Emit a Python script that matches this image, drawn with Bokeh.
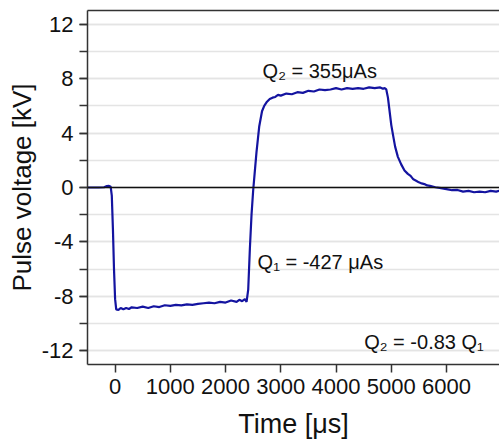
from bokeh.plotting import figure
from bokeh.models import FixedTicker, Span, LinearAxis, Range1d, ColumnDataSource, CustomJSTickFormatter
from bokeh.core.properties import value
from bokeh.embed import file_html
from bokeh.resources import INLINE

# Waveform: time [us] and voltage [kV]
time_us = [-500, -300, -200, -150, -110, -80, -60, -40, -20, 0, 20, 60,
           100, 150, 200, 250, 300, 400, 500, 600, 700, 800, 900, 1000,
           1100, 1200, 1300, 1400, 1500, 1600, 1700, 1800, 1900, 2000,
           2100, 2200, 2250, 2300, 2350, 2380, 2410, 2440, 2470, 2500,
           2530, 2560, 2610, 2660, 2700, 2750, 2800, 2850, 2900, 2950,
           3000, 3100, 3200, 3300, 3400, 3500, 3600, 3700, 3800, 3900,
           4000, 4100, 4200, 4300, 4400, 4500, 4600, 4700, 4800, 4850,
           4880, 4910, 4940, 4970, 5000, 5030, 5070, 5120, 5180, 5240,
           5300, 5350, 5400, 5450, 5500, 5550, 5600, 5650, 5700, 5800,
           5900, 6000, 6100, 6200, 6300, 6400, 6500, 6600, 6700, 6800,
           6900, 7000]
voltage_kv = [0.0, 0.0, 0.02, 0.1, 0.12, 0.05, -0.6, -3.0, -6.0, -8.2, -8.95, -9.0,
              -8.85, -8.95, -8.85, -8.92, -8.8, -8.85, -8.75, -8.85, -8.72, -8.78, -8.65, -8.7,
              -8.62, -8.66, -8.58, -8.62, -8.55, -8.5, -8.45, -8.5, -8.4, -8.45,
              -8.3, -8.4, -8.25, -8.35, -8.2, -8.4, -7.5, -4.5, -2.0, -0.2,
              1.2, 2.6, 4.5, 5.6, 6.0, 6.3, 6.5, 6.6, 6.65, 6.8,
              6.75, 6.9, 6.85, 7.0, 6.95, 7.1, 7.05, 7.2, 7.15, 7.2,
              7.3, 7.2, 7.3, 7.25, 7.3, 7.25, 7.35, 7.3, 7.35, 7.25,
              7.3, 7.2, 6.6, 5.6, 4.6, 3.9, 3.0, 2.25, 1.7, 1.25,
              1.0, 0.85, 0.6, 0.5, 0.38, 0.3, 0.25, 0.15, 0.12, 0.02,
              -0.05, -0.12, -0.2, -0.18, -0.3, -0.25, -0.35, -0.3, -0.35, -0.25,
              -0.3, -0.2]

x_ticks = [0, 1000, 2000, 3000, 4000, 5000, 6000]
y_major_ticks = [-12, -8, -4, 0, 4, 8, 12]
y_minor_ticks = [-12, -10, -8, -6, -4, -2, 0, 2, 4, 6, 8, 10, 12]

ann_text = ["Q\u2082 = 355\u03bcAs", "Q\u2081 = -427 \u03bcAs", "Q\u2082 = -0.83 Q\u2081"]
ann_x = [2670, 2580, 4511]
ann_y = [8.55, -5.47, -11.35]

p = figure(width=499, height=444, output_backend="svg", toolbar_location=None,
           x_range=Range1d(-500, 6960), y_range=Range1d(-13, 13),
           min_border_left=87, min_border_top=10, min_border_right=0, min_border_bottom=80)
p.background_fill_color = "white"
p.border_fill_color = "white"
p.outline_line_color = None

# grid
p.xgrid.grid_line_color = None
p.ygrid.grid_line_color = "#e4e4e4"
p.ygrid.grid_line_width = 1.5
p.ygrid.minor_grid_line_color = "#e4e4e4"
p.ygrid.minor_grid_line_width = 1.5

tick_font = "Liberation Sans"
label_font = "Liberation Sans"

# x axis
xa = p.xaxis[0]
xa.ticker = FixedTicker(ticks=x_ticks)
xa.formatter = CustomJSTickFormatter(code="return tick.toFixed(0);")
xa.axis_label = "Time [\u03bcs]"
xa.axis_line_color = "#333333"
xa.axis_line_width = 1.5
xa.major_tick_line_color = "#333333"
xa.major_tick_line_width = 1.5
xa.major_tick_out = 8
xa.major_tick_in = 0
xa.minor_tick_line_color = None
xa.major_label_text_font = tick_font
xa.major_label_text_font_size = "22px"
xa.major_label_text_color = "#111111"
xa.major_label_standoff = 6
xa.axis_label_text_font = label_font
xa.axis_label_text_font_size = "27px"
xa.axis_label_text_font_style = "normal"
xa.axis_label_text_color = "#111111"
xa.axis_label_standoff = 12

# y axis
ya = p.yaxis[0]
ya.ticker = FixedTicker(ticks=y_major_ticks, minor_ticks=y_minor_ticks)
ya.formatter = CustomJSTickFormatter(code="return tick.toFixed(0);")
ya.axis_label = "Pulse voltage [kV]"
ya.axis_line_color = "#333333"
ya.axis_line_width = 1.5
ya.major_tick_line_color = "#333333"
ya.major_tick_line_width = 1.5
ya.major_tick_out = 8
ya.major_tick_in = 0
ya.minor_tick_line_color = "#333333"
ya.minor_tick_line_width = 1.5
ya.minor_tick_out = 8
ya.minor_tick_in = 0
ya.major_label_text_font = tick_font
ya.major_label_text_font_size = "22px"
ya.major_label_text_color = "#111111"
ya.major_label_standoff = 6
ya.axis_label_text_font = label_font
ya.axis_label_text_font_size = "26px"
ya.axis_label_text_font_style = "normal"
ya.axis_label_text_color = "#111111"
ya.axis_label_standoff = 2

# top border as an unlabeled axis
top = LinearAxis(ticker=FixedTicker(ticks=[]), major_tick_out=0, major_tick_in=0,
                 minor_tick_out=0, minor_tick_in=0, major_label_text_font_size="0px",
                 axis_line_color="#333333", axis_line_width=1.5)
p.add_layout(top, "above")

# zero line
p.add_layout(Span(location=0, dimension="width", line_color="#111111", line_width=1.5))

src = ColumnDataSource(dict(t=time_us, v=voltage_kv))
p.line("t", "v", source=src, line_color="#1414a0", line_width=2.2)

ann = ColumnDataSource(dict(x=ann_x, y=ann_y, text=ann_text))
p.text("x", "y", text="text", source=ann, text_font=value(label_font),
       text_font_size="20px", text_color="#111111", text_align="left",
       text_baseline="alphabetic")

open("out.html", "w").write(file_html(p, INLINE))
